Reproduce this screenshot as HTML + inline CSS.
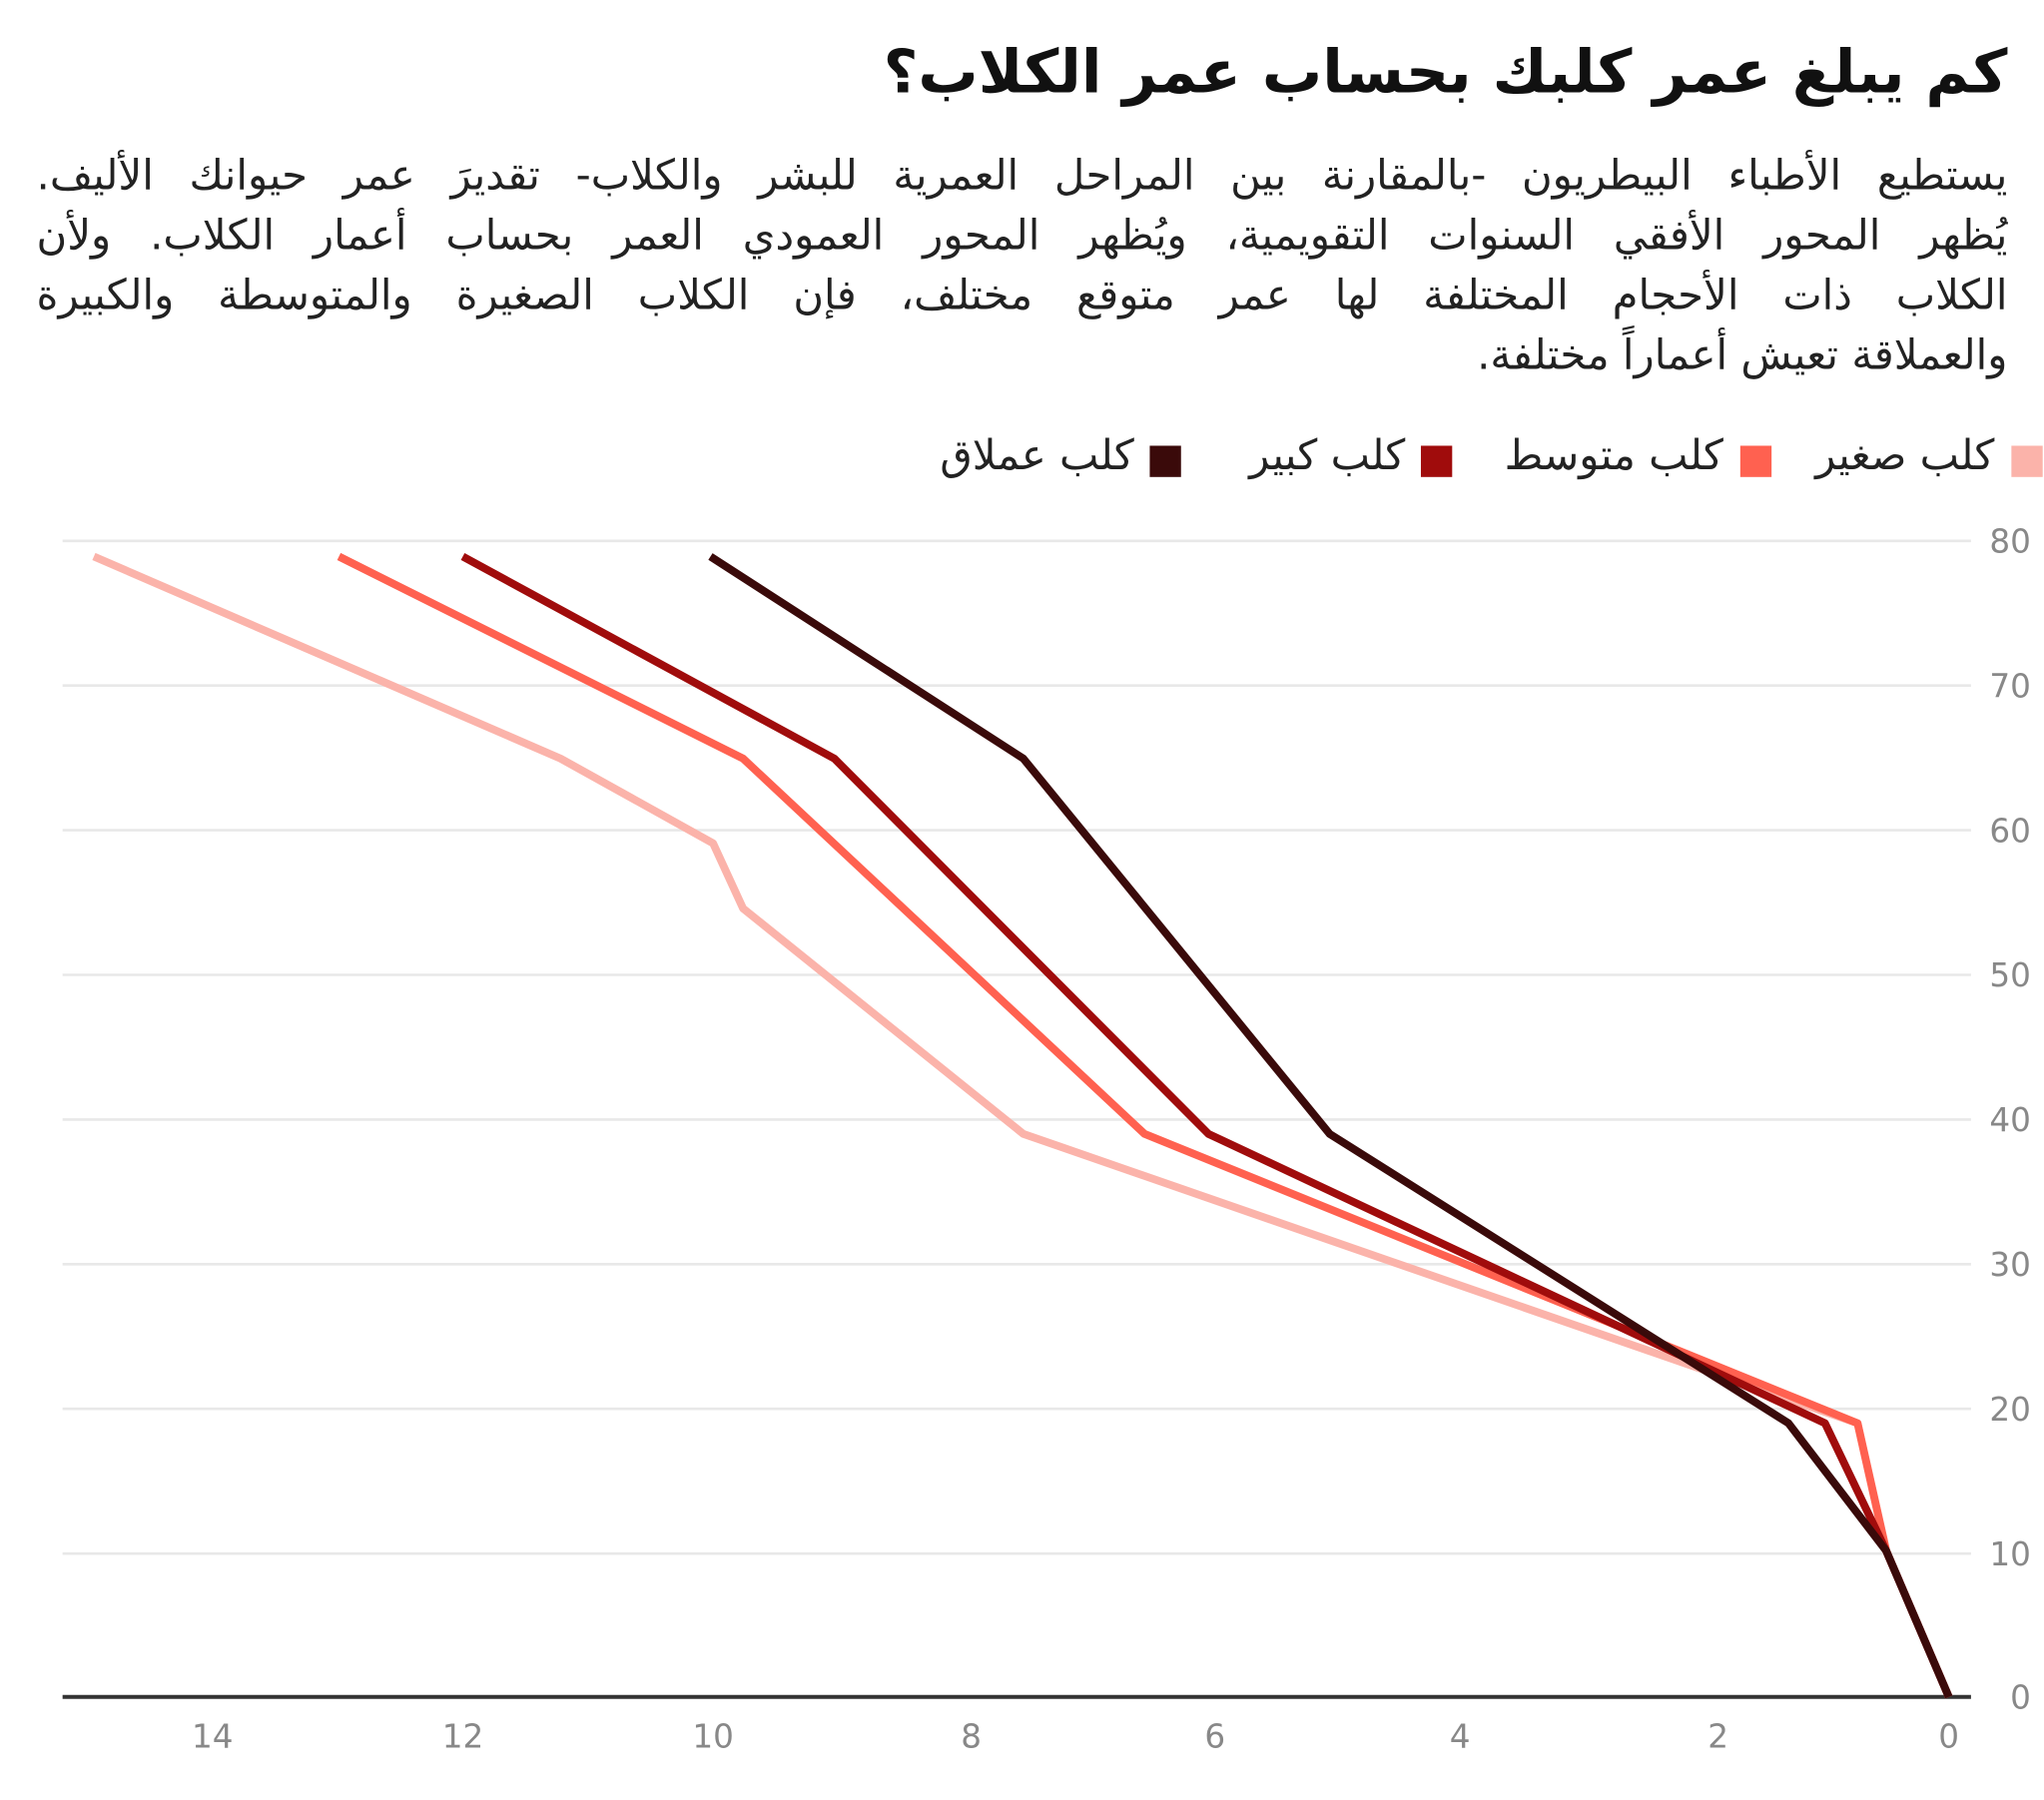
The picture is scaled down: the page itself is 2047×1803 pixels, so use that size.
<!DOCTYPE html>
<html><head><meta charset="utf-8"><style>
html,body{margin:0;padding:0;background:#fff;}
#wrap{position:absolute;left:0;top:0;width:1568px;height:1381px;transform:scale(1.30548);transform-origin:0 0;overflow:hidden;font-family:"DejaVu Sans",sans-serif;}
.t{position:absolute;direction:rtl;color:#111;}
#title{right:28px;top:28px;font-size:46px;font-weight:bold;white-space:nowrap;}
.p{position:absolute;left:28px;width:1512px;direction:rtl;font-size:32px;color:#222;text-align:justify;text-align-last:justify;white-space:nowrap;line-height:44px;}
.leg{position:absolute;top:330px;font-size:32px;color:#222;direction:rtl;white-space:nowrap;}
.sq{position:absolute;top:342px;width:24px;height:24px;}
</style></head><body><div id="wrap">
<div class="t" id="title">كم يبلغ عمر كلبك بحساب عمر الكلاب؟</div>
<div class="p" style="top:112px">يستطيع الأطباء البيطريون -بالمقارنة بين المراحل العمرية للبشر والكلاب- تقديرَ عمر حيوانك الأليف.</div>
<div class="p" style="top:158px">يُظهر المحور الأفقي السنوات التقويمية، ويُظهر المحور العمودي العمر بحساب أعمار الكلاب. ولأن</div>
<div class="p" style="top:204px">الكلاب ذات الأحجام المختلفة لها عمر متوقع مختلف، فإن الكلاب الصغيرة والمتوسطة والكبيرة</div>
<div class="p" style="top:250px;text-align-last:right">والعملاقة تعيش أعماراً مختلفة.</div>

<div class="sq" style="left:1543px;background:#fbb3aa"></div>
<div class="leg" style="right:38px">كلب صغير</div>
<div class="sq" style="left:1335px;background:#ff6150"></div>
<div class="leg" style="right:246px">كلب متوسط</div>
<div class="sq" style="left:1090px;background:#a00c0c"></div>
<div class="leg" style="right:490px">كلب كبير</div>
<div class="sq" style="left:882px;background:#3a0a0a"></div>
<div class="leg" style="right:698px">كلب عملاق</div>

<svg width="1568" height="1381" style="position:absolute;left:0;top:0" font-family="DejaVu Sans, sans-serif">
<g stroke="#e8e8e8" stroke-width="2">
<line x1="48" x2="1512" y1="415" y2="415"/><line x1="48" x2="1512" y1="526" y2="526"/>
<line x1="48" x2="1512" y1="637" y2="637"/><line x1="48" x2="1512" y1="748" y2="748"/>
<line x1="48" x2="1512" y1="859" y2="859"/><line x1="48" x2="1512" y1="970" y2="970"/>
<line x1="48" x2="1512" y1="1081" y2="1081"/><line x1="48" x2="1512" y1="1192" y2="1192"/>
</g>
<line x1="48" x2="1512" y1="1302" y2="1302" stroke="#333" stroke-width="3"/>
<g fill="#888" font-size="25" text-anchor="end">
<text x="1558" y="424">80</text><text x="1558" y="535">70</text><text x="1558" y="646">60</text>
<text x="1558" y="757">50</text><text x="1558" y="868">40</text><text x="1558" y="979">30</text>
<text x="1558" y="1090">20</text><text x="1558" y="1201">10</text><text x="1558" y="1311">0</text>
</g>
<g fill="#888" font-size="25" text-anchor="middle">
<text x="163" y="1341">14</text><text x="355" y="1341">12</text><text x="547" y="1341">10</text>
<text x="745" y="1341">8</text><text x="932" y="1341">6</text><text x="1120" y="1341">4</text>
<text x="1318" y="1341">2</text><text x="1495" y="1341">0</text>
</g>
<g fill="none" stroke-width="6" stroke-linejoin="round">
<polyline stroke="#fbb3aa" points="72,427 430,582 547,647 570,697 785,870 1425,1092 1447,1190 1495,1302"/>
<polyline stroke="#ff6150" points="260,427 570,582 878,870 1425,1092 1447,1190 1495,1302"/>
<polyline stroke="#a00c0c" points="355,427 640,582 927,870 1400,1092 1447,1190 1495,1302"/>
<polyline stroke="#3a0a0a" points="545,427 785,582 1020,870 1372,1092 1447,1190 1495,1302"/>
</g>
</svg>
</div></body></html>
